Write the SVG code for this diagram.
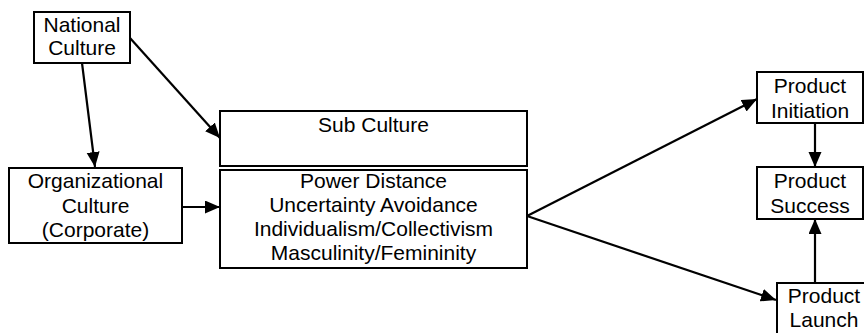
<svg xmlns="http://www.w3.org/2000/svg" width="864" height="333" viewBox="0 0 864 333">
<style>
.box{fill:#fff;stroke:#000;stroke-width:2}
.t{font-family:"Liberation Sans",Arial,sans-serif;font-size:21px;fill:#000;text-anchor:middle}
.c{stroke:#000;stroke-width:2.2;fill:none;marker-end:url(#ah)}
</style>
<defs>
<marker id="ah" markerUnits="userSpaceOnUse" markerWidth="16" markerHeight="14" refX="15" refY="6.5" orient="auto">
<path d="M0,0 L15,6.5 L0,13 z" fill="#000"/>
</marker>
</defs>
<rect width="864" height="333" fill="#fff"/>
<g id="connectors">
<line class="c" x1="82" y1="63" x2="95" y2="167"/>
<line class="c" x1="130" y1="38" x2="220" y2="138"/>
<line class="c" x1="182" y1="207" x2="220" y2="207"/>
<line class="c" x1="527" y1="216" x2="757" y2="99"/>
<line class="c" x1="527" y1="216" x2="776" y2="300"/>
<line class="c" x1="815" y1="123" x2="815" y2="167"/>
<line class="c" x1="815" y1="283" x2="815" y2="219"/>
</g>
<g id="national">
<rect class="box" x="34" y="12" width="96" height="51"/>
<text class="t" x="82" y="32">National</text>
<text class="t" x="82" y="55">Culture</text>
</g>
<g id="organizational">
<rect class="box" x="9" y="168" width="173" height="75"/>
<text class="t" x="95.5" y="188">Organizational</text>
<text class="t" x="95.5" y="213">Culture</text>
<text class="t" x="95.5" y="237">(Corporate)</text>
</g>
<g id="subculture">
<rect class="box" x="220" y="111" width="307" height="55"/>
<text class="t" x="373.5" y="132">Sub Culture</text>
</g>
<g id="dimensions">
<rect class="box" x="220" y="170" width="307" height="98"/>
<text class="t" x="373.5" y="188">Power Distance</text>
<text class="t" x="373.5" y="212">Uncertainty Avoidance</text>
<text class="t" x="373.5" y="236">Individualism/Collectivism</text>
<text class="t" x="373.5" y="260">Masculinity/Femininity</text>
</g>
<g id="initiation">
<rect class="box" x="757" y="72" width="106" height="51"/>
<text class="t" x="810" y="93">Product</text>
<text class="t" x="810" y="118">Initiation</text>
</g>
<g id="success">
<rect class="box" x="757" y="167" width="106" height="52"/>
<text class="t" x="810" y="188">Product</text>
<text class="t" x="810" y="213">Success</text>
</g>
<g id="launch">
<rect class="box" x="777" y="283" width="100" height="60"/>
<text class="t" x="824" y="303">Product</text>
<text class="t" x="824" y="327">Launch</text>
</g>
</svg>
